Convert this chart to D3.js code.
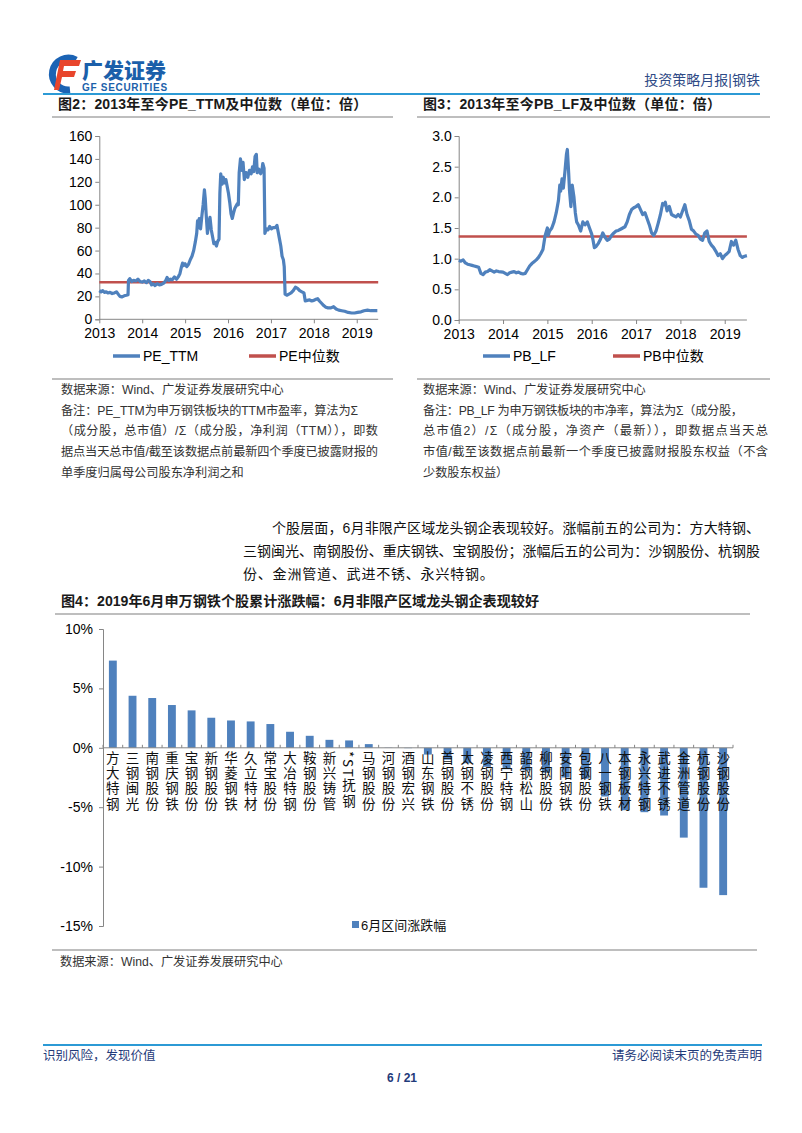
<!DOCTYPE html>
<html><head><meta charset="utf-8">
<script src="https://cdn.jsdelivr.net/npm/d3@7"></script>
<style>
body{margin:0;background:#fff}
svg{display:block}
text{font-family:"Liberation Sans","Noto Sans CJK SC",sans-serif}
</style>
</head><body>
<svg id="page" width="802" height="1133"></svg>
<script>
// ---------------- DATA ----------------
const peDates = [2013.00,2013.04,2013.08,2013.12,2013.16,2013.20,2013.25,2013.30,2013.35,2013.40,2013.44,2013.48,2013.53,2013.58,2013.63,2013.67,2013.68,2013.71,2013.76,2013.80,2013.85,2013.90,2013.95,2014.00,2014.05,2014.10,2014.14,2014.18,2014.22,2014.26,2014.30,2014.35,2014.40,2014.45,2014.50,2014.55,2014.58,2014.62,2014.66,2014.70,2014.75,2014.80,2014.84,2014.88,2014.91,2014.94,2014.97,2015.00,2015.04,2015.08,2015.12,2015.16,2015.20,2015.24,2015.27,2015.29,2015.31,2015.33,2015.36,2015.39,2015.42,2015.45,2015.47,2015.49,2015.52,2015.55,2015.58,2015.61,2015.64,2015.67,2015.70,2015.73,2015.76,2015.79,2015.81,2015.83,2015.86,2015.89,2015.92,2015.95,2015.98,2016.01,2016.04,2016.07,2016.10,2016.13,2016.16,2016.19,2016.22,2016.24,2016.26,2016.29,2016.32,2016.35,2016.38,2016.42,2016.46,2016.50,2016.54,2016.57,2016.60,2016.63,2016.66,2016.68,2016.72,2016.76,2016.79,2016.81,2016.84,2016.86,2016.89,2016.93,2016.97,2017.01,2017.05,2017.10,2017.14,2017.17,2017.20,2017.23,2017.26,2017.29,2017.31,2017.33,2017.37,2017.42,2017.47,2017.52,2017.57,2017.62,2017.67,2017.72,2017.77,2017.80,2017.85,2017.90,2017.95,2018.00,2018.05,2018.09,2018.13,2018.18,2018.23,2018.28,2018.33,2018.40,2018.46,2018.52,2018.58,2018.65,2018.72,2018.80,2018.88,2018.95,2019.02,2019.10,2019.17,2019.25,2019.33,2019.40,2019.48];
const peValues = [25,24,25,23.5,24,23,23.5,22.5,23,24,22,20,19.5,20.5,21,21.5,34,35.5,33,34,33.5,35,33,32.5,33.5,32,34,33,30,31,29.5,31,30,30.5,31.5,34,36.5,34,35,34.5,37,35,37,40,45,49,47,48.5,46,48,52,55,60,68,75,86,80,88,79,90,100,113,105,92,75,84,89,78,72,66,67,64,68,70,110,127,118,124,119,122,116,110,102,92,88,93,97,99,101,100,128,140,130,137,122,128,124,130,127,133,129,142,144,128,131,127,130,136,132,75,79,78,81,79,80,80,82,76,70,64,55,52,46,22,21,22,23,25,28,27,25,24,23,16,16.5,17,16,16.5,17.5,18,16,14,12,10.5,10,10,11,9,8,7.5,7,6,5.5,5.5,6,6.5,7.5,8,7.5,7.5,7.5];
const peMedian = 32.4;

const pbDates = [2013.00,2013.05,2013.10,2013.15,2013.20,2013.25,2013.30,2013.35,2013.40,2013.45,2013.50,2013.55,2013.60,2013.65,2013.70,2013.75,2013.80,2013.85,2013.90,2014.00,2014.05,2014.10,2014.15,2014.20,2014.25,2014.30,2014.35,2014.40,2014.45,2014.50,2014.55,2014.60,2014.65,2014.70,2014.75,2014.80,2014.85,2014.90,2014.95,2015.00,2015.02,2015.05,2015.10,2015.15,2015.20,2015.25,2015.28,2015.30,2015.33,2015.36,2015.40,2015.43,2015.45,2015.48,2015.50,2015.53,2015.56,2015.60,2015.63,2015.66,2015.70,2015.75,2015.80,2015.85,2015.90,2015.95,2016.00,2016.03,2016.06,2016.10,2016.15,2016.20,2016.25,2016.30,2016.35,2016.40,2016.45,2016.50,2016.55,2016.60,2016.65,2016.70,2016.75,2016.80,2016.85,2016.90,2016.95,2017.00,2017.05,2017.10,2017.15,2017.20,2017.25,2017.30,2017.35,2017.40,2017.45,2017.50,2017.55,2017.60,2017.63,2017.66,2017.70,2017.75,2017.80,2017.85,2017.90,2017.95,2018.00,2018.05,2018.10,2018.15,2018.20,2018.25,2018.30,2018.35,2018.40,2018.45,2018.50,2018.55,2018.60,2018.65,2018.70,2018.75,2018.80,2018.85,2018.90,2018.95,2019.00,2019.05,2019.10,2019.15,2019.20,2019.25,2019.30,2019.35,2019.40,2019.45,2019.50];
const pbValues = [0.97,0.96,0.98,0.93,0.91,0.90,0.89,0.88,0.87,0.86,0.76,0.74,0.78,0.79,0.82,0.80,0.78,0.80,0.79,0.78,0.76,0.74,0.77,0.78,0.79,0.77,0.78,0.76,0.75,0.76,0.82,0.88,0.92,0.95,0.98,1.02,1.08,1.15,1.38,1.50,1.38,1.45,1.50,1.60,1.75,1.95,2.20,2.10,2.30,2.15,2.45,2.70,2.78,2.40,2.10,1.85,2.20,2.00,1.75,1.60,1.55,1.45,1.60,1.55,1.60,1.50,1.40,1.30,1.18,1.20,1.25,1.32,1.42,1.35,1.30,1.32,1.38,1.42,1.45,1.46,1.48,1.50,1.52,1.60,1.72,1.80,1.83,1.85,1.88,1.80,1.72,1.75,1.65,1.55,1.42,1.38,1.45,1.58,1.72,1.90,1.88,1.92,1.78,1.85,1.72,1.70,1.68,1.72,1.68,1.78,1.88,1.72,1.62,1.48,1.45,1.40,1.38,1.32,1.30,1.42,1.45,1.28,1.22,1.18,1.12,1.05,1.08,1.00,1.05,1.08,1.12,1.28,1.22,1.30,1.15,1.05,1.02,1.04,1.05];
const pbMedian = 1.36;

const yearTicks = [2013,2014,2015,2016,2017,2018,2019];
const peTicks = [0,20,40,60,80,100,120,140,160];
const pbTicks = [0,0.5,1.0,1.5,2.0,2.5,3.0];

const stockNames = ["方大特钢","三钢闽光","南钢股份","重庆钢铁","宝钢股份","新钢股份","华菱钢铁","久立特材","常宝股份","大冶特钢","鞍钢股份","新兴铸管","*ST抚钢","马钢股份","河钢股份","酒钢宏兴","山东钢铁","首钢股份","太钢不锈","凌钢股份","西宁特钢","韶钢松山","柳钢股份","安阳钢铁","包钢股份","八一钢铁","本钢板材","永兴特钢","武进不锈","金洲管道","杭钢股份","沙钢股份"];
const stockChanges = [7.34,4.38,4.19,3.60,3.15,2.53,2.30,2.22,2.00,1.35,1.01,0.67,0.62,0.31,0.02,-0.03,-0.57,-1.0,-1.3,-1.6,-1.8,-1.9,-2.1,-2.5,-2.6,-4.1,-5.25,-5.42,-5.7,-7.56,-11.78,-12.4];
const barTicks = [-15,-10,-5,0,5,10];

const fig2Title = "图2：2013年至今PE_TTM及中位数（单位：倍）";
const fig3Title = "图3：2013年至今PB_LF及中位数（单位：倍）";
const fig4Title = "图4：2019年6月申万钢铁个股累计涨跌幅：6月非限产区域龙头钢企表现较好";
const source = "数据来源：Wind、广发证券发展研究中心";
const fig2Notes = ["备注：PE_TTM为申万钢铁板块的TTM市盈率，算法为Σ","（成分股，总市值）/Σ（成分股，净利润（TTM）），即数","据点当天总市值/截至该数据点前最新四个季度已披露财报的","单季度归属母公司股东净利润之和"];
const fig3Notes = ["备注：PB_LF 为申万钢铁板块的市净率，算法为Σ（成分股，","总市值2）/Σ（成分股，净资产（最新）），即数据点当天总","市值/截至该数据点前最新一个季度已披露财报股东权益（不含","少数股东权益）"];
const paragraph = ["个股层面，6月非限产区域龙头钢企表现较好。涨幅前五的公司为：方大特钢、","三钢闽光、南钢股份、重庆钢铁、宝钢股份；涨幅后五的公司为：沙钢股份、杭钢股","份、金洲管道、武进不锈、永兴特钢。"];

// ---------------- DRAW ----------------
const svg = d3.select("#page");
svg.append("rect").attr("width",802).attr("height",1133).attr("fill","#fff");
const BLUE = "#4f81bd", RED = "#c0504d", AXIS = "#868686", NAVY = "#1f3b7a";

// header
const logo = svg.append("g");
logo.append("path").attr("d","M76,60 A16,16 0 1 0 70,90").attr("fill","none").attr("stroke","#1b63b4").attr("stroke-width",7);
logo.append("path").attr("d","M60,60 L81,60 L79,66 L64,66 L63,71 L76,71 L74,77 L62,77 L59,90 L54,90 Z").attr("fill","#e8452c");
svg.append("text").attr("x",82).attr("y",78).attr("font-size",21).attr("font-weight",900).attr("fill","#1b5faa")
  .style("font-family","'Noto Sans CJK SC'").text("广发证券");
svg.append("text").attr("x",82).attr("y",91).attr("font-size",10).attr("font-weight",700).attr("fill","#1b5faa").attr("letter-spacing",0.7).text("GF SECURITIES");
svg.append("text").attr("x",760).attr("y",85).attr("text-anchor","end").attr("font-size",14).attr("fill","#2e4a86").text("投资策略月报|钢铁");
svg.append("line").attr("x1",43).attr("x2",760).attr("y1",94).attr("y2",94).attr("stroke","#2c9ad5").attr("stroke-width",2);

function titleBlock(x, x2, y, txt, w){
  const t = svg.append("text").attr("x",x).attr("y",y).attr("font-size",14).attr("font-weight",700).attr("fill","#1a1a1a").text(txt);
  if (w) t.attr("textLength",w).attr("lengthAdjust","spacingAndGlyphs"); else t.attr("letter-spacing",0.2);
  svg.append("line").attr("x1",x-6).attr("x2",x2).attr("y1",y+8).attr("y2",y+8).attr("stroke","#7f7f7f").attr("stroke-width",1.2);
}
titleBlock(58,393,109,fig2Title);
titleBlock(423,770,109,fig3Title);

function lineChart(opt){
  const x = d3.scaleLinear().domain([2013,2019.5]).range([opt.x0,opt.x1]);
  const y = d3.scaleLinear().domain(opt.yDom).range([opt.y0,opt.y1]);
  const g = svg.append("g");
  const ya = g.append("g").attr("transform",`translate(${opt.x0},0)`)
    .call(d3.axisLeft(y).tickValues(opt.yTicks).tickSize(4).tickPadding(3).tickFormat(opt.fmt));
  const xa = g.append("g").attr("transform",`translate(0,${opt.y0})`)
    .call(d3.axisBottom(x).tickValues(yearTicks).tickSize(4).tickPadding(5).tickFormat(d3.format("d")));
  [ya,xa].forEach(a=>{a.selectAll("path,line").attr("stroke",AXIS); a.selectAll("text").attr("font-size",14).attr("fill","#000").style("font-family","'Liberation Sans'");});
  xa.select(".domain").attr("d",`M${opt.x0},0H${opt.x1}`);
  g.append("line").attr("x1",opt.x0).attr("x2",opt.x1).attr("y1",y(opt.median)).attr("y2",y(opt.median)).attr("stroke",RED).attr("stroke-width",2.5);
  const pts = opt.dates.map((d,i)=>[d,opt.values[i]]);
  g.append("path").datum(pts).attr("fill","none").attr("stroke",BLUE).attr("stroke-width",3.2).attr("stroke-linejoin","round")
    .attr("d",d3.line().x(d=>x(d[0])).y(d=>y(d[1])));
  // legend
  const ly = 356;
  g.append("line").attr("x1",opt.leg[0]).attr("x2",opt.leg[0]+27).attr("y1",ly).attr("y2",ly).attr("stroke",BLUE).attr("stroke-width",3.5);
  g.append("text").attr("x",opt.leg[0]+30).attr("y",ly+5).attr("font-size",14).text(opt.names[0]);
  g.append("line").attr("x1",opt.leg[1]).attr("x2",opt.leg[1]+27).attr("y1",ly).attr("y2",ly).attr("stroke",RED).attr("stroke-width",3.5);
  g.append("text").attr("x",opt.leg[1]+30).attr("y",ly+5).attr("font-size",14).text(opt.names[1]);
}
lineChart({x0:99.3,x1:378.2,y0:319.3,y1:136,yDom:[0,160],yTicks:peTicks,fmt:d3.format("d"),dates:peDates,values:peValues,median:peMedian,leg:[113,249],names:["PE_TTM","PE中位数"]});
lineChart({x0:458.7,x1:746.9,y0:320,y1:136,yDom:[0,3],yTicks:pbTicks,fmt:d3.format(".1f"),dates:pbDates,values:pbValues,median:pbMedian,leg:[483,613],names:["PB_LF","PB中位数"]});

// notes (justified lines get a fixed width like the reference)
function notes(x, lineX1, lineX2, lines, widths){
  svg.append("line").attr("x1",lineX1).attr("x2",lineX2).attr("y1",379).attr("y2",379).attr("stroke","#7f7f7f").attr("stroke-width",1.2);
  const all = [source].concat(lines);
  all.forEach((t,i)=>{
    const tx = svg.append("text").attr("x",x).attr("y",394+i*20.7).attr("font-size",12.2).attr("fill","#333").text(t);
    if (widths[i]) tx.attr("textLength",widths[i]).attr("lengthAdjust","spacing");
  });
}
notes(61,52,393,fig2Notes,[0,297,317,317,0]);
notes(423,417,770,fig3Notes,[0,320,345,345,0]);

// paragraph
const paraW = [488,517,0];
paragraph.forEach((t,i)=>{
  const tx = svg.append("text").attr("x",i===0?272:243).attr("y",533+i*23).attr("font-size",14).attr("fill","#111").text(t);
  if (paraW[i]) tx.attr("textLength",paraW[i]).attr("lengthAdjust","spacing"); else tx.attr("letter-spacing",0.8);
});

// fig 4
titleBlock(61,750,606,fig4Title,478);
const bx = d3.scaleBand().domain(stockNames).range([103,733]).paddingInner(0.6).paddingOuter(0.3);
const by = d3.scaleLinear().domain([-15,10]).range([926,629]);
const bg = svg.append("g");
bg.selectAll("rect.bar").data(stockNames).join("rect").attr("class","bar")
  .attr("x",d=>bx(d)).attr("width",bx.bandwidth())
  .attr("y",(d,i)=>by(Math.max(0,stockChanges[i])))
  .attr("height",(d,i)=>Math.abs(by(stockChanges[i])-by(0)))
  .attr("fill",BLUE);
const bya = bg.append("g").attr("transform","translate(103,0)")
  .call(d3.axisLeft(by).tickValues(barTicks).tickSize(4).tickPadding(6).tickFormat(d=>d+"%"));
bya.selectAll("path,line").attr("stroke",AXIS);
bya.selectAll("text").attr("font-size",14).attr("fill","#000");
bg.append("line").attr("x1",103).attr("x2",733).attr("y1",by(0)).attr("y2",by(0)).attr("stroke",AXIS);
const step = bx.step();
bg.selectAll("line.ct").data(d3.range(stockNames.length+1)).join("line").attr("class","ct")
  .attr("x1",d=>103+d*step).attr("x2",d=>103+d*step).attr("y1",by(0)-3).attr("y2",by(0)).attr("stroke",AXIS);
bg.selectAll("text.cat").data(stockNames).join("text").attr("class","cat")
  .attr("x",d=>bx(d)+bx.bandwidth()/2).attr("y",751)
  .style("writing-mode","vertical-rl").attr("font-size",13.5).attr("letter-spacing",1.8).attr("fill","#111")
  .style("font-family","'Noto Sans CJK SC','Liberation Sans'")
  .text(d=>d);
// legend
bg.append("rect").attr("x",352).attr("y",921).attr("width",7).attr("height",7).attr("fill",BLUE);
bg.append("text").attr("x",361).attr("y",930).attr("font-size",13).attr("fill","#111").text("6月区间涨跌幅");
svg.append("line").attr("x1",52).attr("x2",757).attr("y1",950).attr("y2",950).attr("stroke","#7f7f7f").attr("stroke-width",1.2);
svg.append("text").attr("x",60).attr("y",966).attr("font-size",12.2).attr("fill","#333").text(source);

// footer
svg.append("line").attr("x1",43).attr("x2",762).attr("y1",1045).attr("y2",1045).attr("stroke","#2c9ad5").attr("stroke-width",2);
svg.append("text").attr("x",43).attr("y",1060).attr("font-size",12.5).attr("fill",NAVY).text("识别风险，发现价值");
svg.append("text").attr("x",762).attr("y",1060).attr("text-anchor","end").attr("font-size",12.5).attr("fill",NAVY).text("请务必阅读末页的免责声明");
svg.append("text").attr("x",402).attr("y",1082).attr("text-anchor","middle").attr("font-size",12).attr("font-weight",700).attr("fill",NAVY).text("6 / 21");
</script>
</body></html>
